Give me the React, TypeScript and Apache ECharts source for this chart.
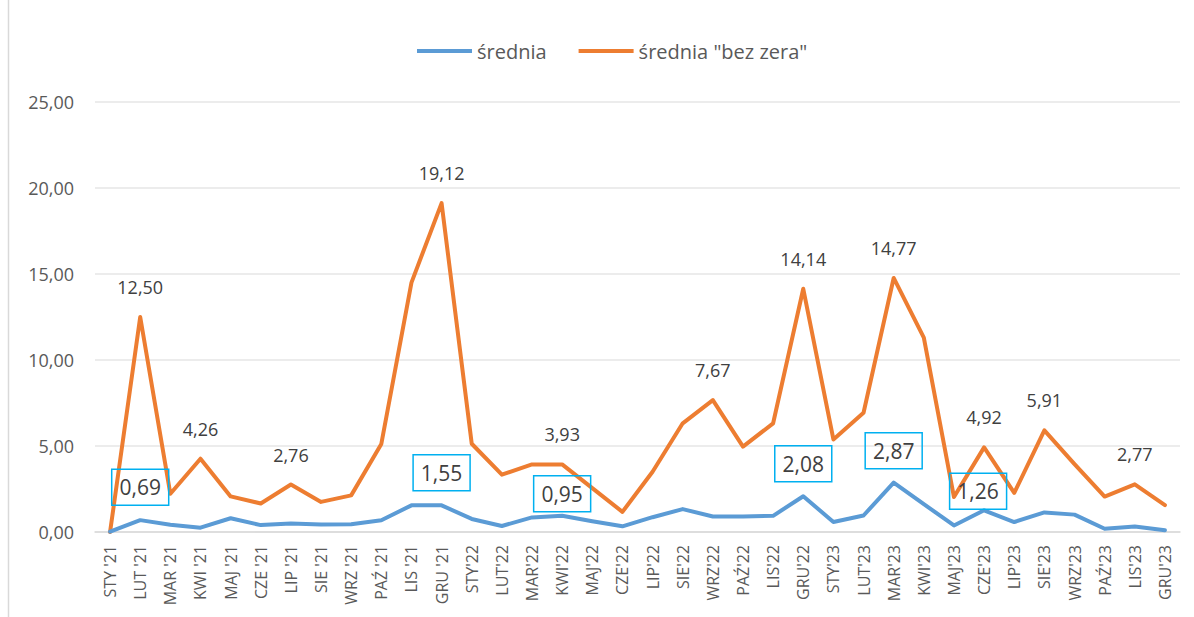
import React, { useEffect, useRef } from "react";
import * as echarts from "echarts";

const categories = [
  "STY '21", "LUT '21", "MAR '21", "KWI '21", "MAJ '21", "CZE '21", "LIP '21", "SIE '21", "WRZ '21", "PAŹ '21", "LIS '21", "GRU '21",
  "STY'22", "LUT'22", "MAR'22", "KWI'22", "MAJ'22", "CZE'22", "LIP'22", "SIE'22", "WRZ'22", "PAŹ'22", "LIS'22", "GRU'22",
  "STY'23", "LUT'23", "MAR'23", "KWI'23", "MAJ'23", "CZE'23", "LIP'23", "SIE'23", "WRZ'23", "PAŹ'23", "LIS'23", "GRU'23",
];

const srednia = [
  0.02, 0.69, 0.42, 0.25, 0.8, 0.4, 0.5, 0.43, 0.45, 0.68, 1.55, 1.55,
  0.76, 0.35, 0.85, 0.95, 0.63, 0.33, 0.86, 1.33, 0.9, 0.9, 0.94, 2.08,
  0.58, 0.96, 2.87, 1.62, 0.38, 1.26, 0.58, 1.14, 1.01, 0.19, 0.32, 0.1,
];

const sredniaBezZera = [
  0.0, 12.5, 2.22, 4.26, 2.07, 1.66, 2.76, 1.75, 2.13, 5.12, 14.5, 19.12,
  5.13, 3.33, 3.93, 3.93, 2.55, 1.17, 3.5, 6.32, 7.67, 4.96, 6.32, 14.14,
  5.38, 6.93, 14.77, 11.3, 2.03, 4.92, 2.27, 5.91, 3.95, 2.06, 2.77, 1.56,
];

const yTicks = [0, 5, 10, 15, 20, 25];

// which points carry a data label
const orangeLabelIdx = [1, 3, 6, 11, 15, 20, 23, 26, 29, 31, 34];
const blueLabelIdx = [1, 11, 15, 23, 26, 29];

// label placement styling (distance above the point, x offset)
const blueLabelPlacement: Record<number, { d: number; dx: number }> = {
  1: { d: 15, dx: 0 },
  11: { d: 14.5, dx: 0 },
  15: { d: 4, dx: 0 },
  23: { d: 14.5, dx: 0 },
  26: { d: 14, dx: 0 },
  29: { d: 1, dx: -6 },
};

const FONT = "'Open Sans', 'Noto Sans', sans-serif";
const fmt = (v: number) => v.toFixed(2).replace(".", ",");

export default function App() {
  const ref = useRef<HTMLDivElement>(null);

  useEffect(() => {
    if (!ref.current) return;
    const chart = echarts.init(ref.current, undefined, { renderer: "svg" });

    const blueData = srednia.map((v, i) => {
      if (!blueLabelIdx.includes(i)) return v;
      const p = blueLabelPlacement[i];
      return {
        value: v,
        label: {
          show: true,
          position: "top",
          distance: p.d,
          offset: [p.dx, 0],
          formatter: (pr: any) => fmt(pr.value),
          color: "#404040",
          fontSize: 21,
          fontFamily: FONT,
          width: 57,
          height: 36,
          lineHeight: 36,
          align: "center",
          borderColor: "#00B0F0",
          borderWidth: 1.5,
          padding: 0,
        },
      };
    });

    const orangeData = sredniaBezZera.map((v, i) => {
      if (!orangeLabelIdx.includes(i)) return v;
      return {
        value: v,
        label: {
          show: true,
          position: "top",
          distance: 21,
          formatter: (pr: any) => fmt(pr.value),
          color: "#404040",
          fontSize: 18,
          fontFamily: FONT,
        },
      };
    });

    chart.setOption({
      animation: false,
      backgroundColor: "#ffffff",
      textStyle: { fontFamily: FONT },
      legend: {
        left: 412,
        top: 36,
        icon: "rect",
        itemWidth: 55,
        itemHeight: 4,
        itemGap: 32,
        textStyle: { color: "#595959", fontSize: 20, fontFamily: FONT },
        data: ["średnia", 'średnia "bez zera"'],
      },
      grid: { left: 95, right: 14, top: 102, bottom: 85, containLabel: false },
      xAxis: {
        type: "category",
        data: categories,
        boundaryGap: true,
        axisLine: { show: true, lineStyle: { color: "#D9D9D9", width: 1.5 } },
        axisTick: { show: false },
        axisLabel: {
          rotate: 90,
          interval: 0,
          margin: 13,
          color: "#595959",
          fontSize: 16,
          fontFamily: FONT,
        },
        splitLine: { show: false },
      },
      yAxis: {
        type: "value",
        min: yTicks[0],
        max: yTicks[yTicks.length - 1],
        interval: 5,
        axisLine: { show: false },
        axisTick: { show: false },
        axisLabel: {
          margin: 21,
          color: "#595959",
          fontSize: 18,
          fontFamily: FONT,
          formatter: (v: number) => fmt(v),
        },
        splitLine: { lineStyle: { color: "#E6E6E6", width: 1.5 } },
      },
      graphic: [
        {
          type: "line",
          shape: { x1: 8.5, y1: 0, x2: 8.5, y2: 617 },
          style: { stroke: "#D9D9D9", lineWidth: 1.5 },
        },
      ],
      series: [
        {
          name: "średnia",
          type: "line",
          data: blueData,
          symbol: "circle",
          symbolSize: 0,
          showSymbol: true,
          itemStyle: { color: "#5B9BD5" },
          lineStyle: { color: "#5B9BD5", width: 4, cap: "round", join: "round" },
          z: 3,
        },
        {
          name: 'średnia "bez zera"',
          type: "line",
          data: orangeData,
          symbol: "circle",
          symbolSize: 0,
          showSymbol: true,
          itemStyle: { color: "#ED7D31" },
          lineStyle: { color: "#ED7D31", width: 4, cap: "round", join: "round" },
          z: 2,
        },
      ],
    });

    return () => chart.dispose();
  }, []);

  return (
    <div
      ref={ref}
      style={{ position: "fixed", left: 0, top: 0, width: 1194, height: 617, background: "#fff" }}
    />
  );
}
